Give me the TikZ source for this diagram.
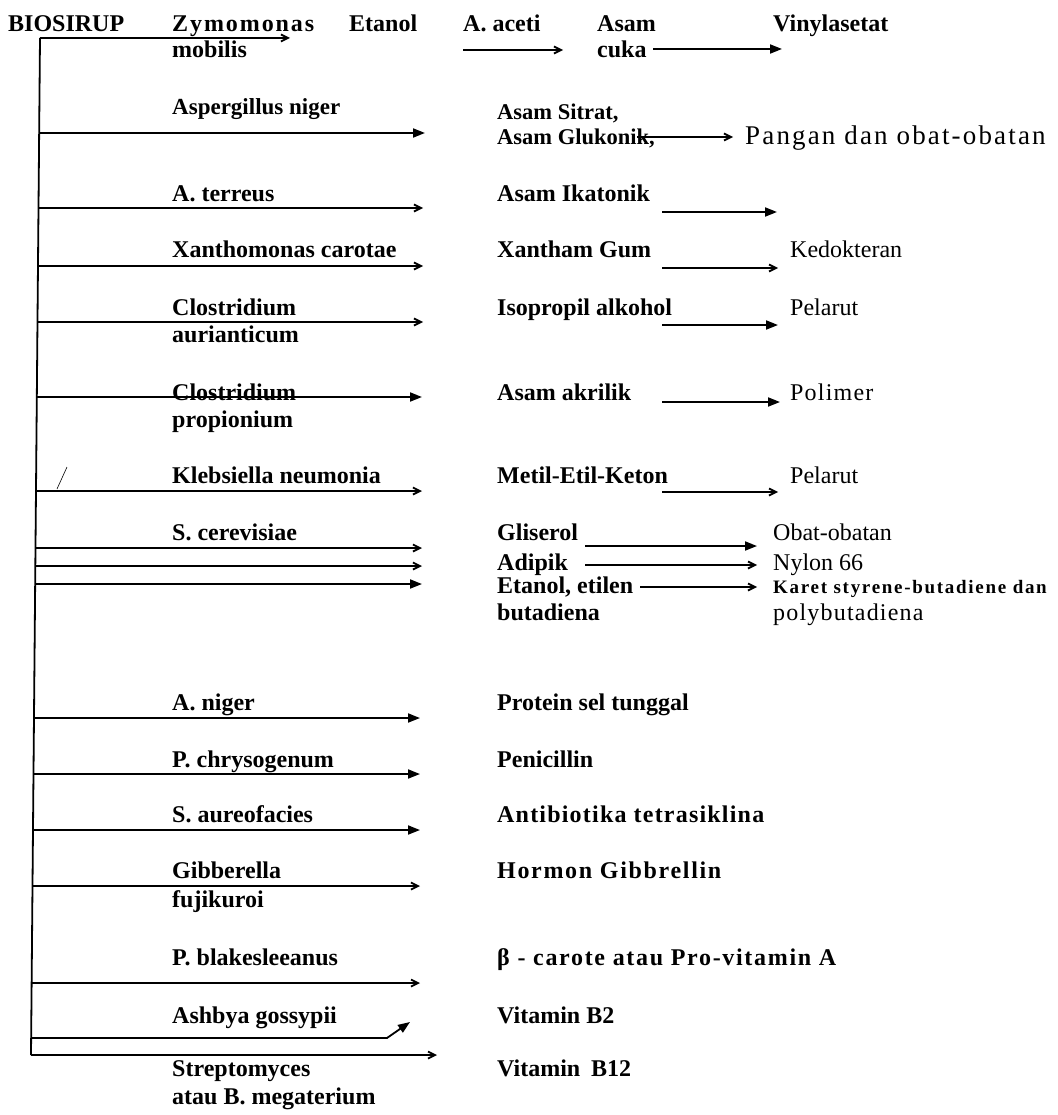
\documentclass[tikz,border=0pt]{standalone}
\usepackage{fontspec}
\setmainfont{Liberation Serif}
% letter-spaced cuts of the same family
\newfontfamily\spacedA{Liberation Serif}[LetterSpace=8]
\newfontfamily\spacedB{Liberation Serif}[LetterSpace=5]
\newfontfamily\spacedC{Liberation Serif}[LetterSpace=7]
\newfontfamily\spacedD{Liberation Serif}[LetterSpace=9]
\usetikzlibrary{arrows.meta}
\begin{document}
\begin{tikzpicture}[x=1pt,y=-1pt,
  lbl/.style={anchor=base west, inner sep=0pt, font=\bfseries\fontsize{24}{28}\selectfont},
  rlbl/.style={anchor=base west, inner sep=0pt, font=\fontsize{24}{28}\selectfont},
  link/.style={line width=1.8pt},
  barb/.style={link, -{Straight Barb[length=7pt,width=7pt]}},
  head/.style={link, -{Triangle[length=12pt,width=9pt]}}]
\useasboundingbox (0,0) rectangle (1057,1115);

% ---------- first row: ethanol / acetic acid chain ----------
\node[lbl] (bio) at (8,32) {BIOSIRUP};
\node[lbl, font=\spacedA\bfseries\fontsize{24}{28}\selectfont] (zym1) at (172,32) {Zymomonas};
\node[lbl] (zym2) at (172,58) {mobilis};
\node[lbl] (etn) at (349,32) {Etanol};
\node[lbl] (ace) at (463,32) {A. aceti};
\node[lbl] (cuk1) at (597,32) {Asam};
\node[lbl] (cuk2) at (597,58) {cuka};
\node[lbl] (vin) at (773,32) {Vinylasetat};

% ---------- spine ----------
\coordinate (sp0) at (40,38);
\coordinate (sp1) at (31,1055);
\draw[link] (sp0) -- (sp1);

% branch starts on the spine
\coordinate (b2) at (39.2,133);
\coordinate (b3) at (38.5,208);
\coordinate (b4) at (38.0,266);
\coordinate (b5) at (37.5,322);
\coordinate (b6) at (36.8,397);
\coordinate (b7) at (36.0,491);
\coordinate (b8a) at (35.5,548);
\coordinate (b8b) at (35.3,566);
\coordinate (b8c) at (35.2,584);
\coordinate (b9) at (34.0,718);
\coordinate (b10) at (33.5,774);
\coordinate (b11) at (33.0,830);
\coordinate (b12) at (32.5,886);
\coordinate (b13) at (31.6,983);
\coordinate (b14) at (31.2,1038);

% branch ends
\coordinate (e1) at (290,38);
\coordinate (e2) at (425,133);
\coordinate (e3) at (423,208);
\coordinate (e4) at (423,266);
\coordinate (e5) at (423,322);
\coordinate (e6) at (422,397);
\coordinate (e7) at (422,491);
\coordinate (e8a) at (422,548);
\coordinate (e8b) at (422,566);
\coordinate (e8c) at (422,584);
\coordinate (e9) at (420,718);
\coordinate (e10) at (420,774);
\coordinate (e11) at (420,830);
\coordinate (e12) at (420,886);
\coordinate (e13) at (420,983);
\coordinate (k14) at (387,1038);
\coordinate (e14) at (410,1022);
\coordinate (e15) at (437,1055);

\draw[barb] (sp0) -- (e1);
\draw[head] (b2) -- (e2);
\draw[barb] (b3) -- (e3);
\draw[barb] (b4) -- (e4);
\draw[barb] (b5) -- (e5);
\draw[head] (b6) -- (e6);
\draw[barb] (b7) -- (e7);
\draw[barb] (b8a) -- (e8a);
\draw[barb] (b8b) -- (e8b);
\draw[head] (b8c) -- (e8c);
\draw[head] (b9) -- (e9);
\draw[head] (b10) -- (e10);
\draw[head] (b11) -- (e11);
\draw[barb] (b12) -- (e12);
\draw[barb] (b13) -- (e13);
\draw[head] (b14) -- (k14) -- (e14);
\draw[barb] (sp1) -- (e15);

% small stroke beside the Klebsiella branch
\draw[line width=0.6pt] (67,467) -- (57,489);

% first row arrows
\coordinate (aceS) at (463,50);
\coordinate (aceE) at (563,50);
\draw[barb] (aceS) -- (aceE);
\coordinate (cukS) at (653,49);
\coordinate (cukE) at (782,49);
\draw[head] (cukS) -- (cukE);

% ---------- microorganisms ----------
\node[lbl, font=\bfseries\fontsize{23}{27}\selectfont] (asp) at (172,115) {Aspergillus niger};
\node[lbl] (ter) at (172,202) {A. terreus};
\node[lbl] (xan) at (172,258) {Xanthomonas carotae};
\node[lbl] (cla1) at (172,315) {Clostridium};
\node[lbl] (cla2) at (172,342) {aurianticum};
\node[lbl] (clp1) at (172,400) {Clostridium};
\node[lbl] (clp2) at (172,427) {propionium};
\node[lbl] (kle) at (172,483) {Klebsiella neumonia};
\node[lbl] (cer) at (172,540) {S. cerevisiae};
\node[lbl] (ang) at (172,710) {A. niger};
\node[lbl] (chr) at (172,767) {P. chrysogenum};
\node[lbl] (aur) at (172,822) {S. aureofacies};
\node[lbl] (gib1) at (172,878) {Gibberella};
\node[lbl] (gib2) at (172,907) {fujikuroi};
\node[lbl] (bla) at (172,965) {P. blakesleeanus};
\node[lbl] (ash) at (172,1023) {Ashbya gossypii};
\node[lbl] (str1) at (172,1076) {Streptomyces};
\node[lbl] (str2) at (172,1104) {atau B. megaterium};

% ---------- products ----------
\node[lbl, font=\bfseries\fontsize{22.5}{26}\selectfont] (sit1) at (497,120) {Asam Sitrat,};
\node[lbl, font=\bfseries\fontsize{22.5}{26}\selectfont] (sit2) at (497,145) {Asam Glukonik,};
\node[lbl] (ika) at (497,202) {Asam Ikatonik};
\node[lbl] (gum) at (497,258) {Xantham Gum};
\node[lbl] (iso) at (497,315) {Isopropil alkohol};
\node[lbl] (akr) at (497,400) {Asam akrilik};
\node[lbl] (mek) at (497,483) {Metil-Etil-Keton};
\node[lbl] (gli) at (497,540) {Gliserol};
\node[lbl] (adi) at (497,570) {Adipik};
\node[lbl] (etl1) at (497,593) {Etanol, etilen};
\node[lbl] (etl2) at (497,620) {butadiena};
\node[lbl] (pst) at (497,710) {Protein sel tunggal};
\node[lbl] (pen) at (497,767) {Penicillin};
\node[lbl, font=\spacedB\bfseries\fontsize{24}{28}\selectfont] (tet) at (497,822) {Antibiotika tetrasiklina};
\node[lbl, font=\spacedC\bfseries\fontsize{24}{28}\selectfont] (hor) at (497,878) {Hormon Gibbrellin};
\node[lbl, font=\spacedC\bfseries\fontsize{24}{28}\selectfont] (car) at (497,965) {β - carote atau Pro-vitamin A};
\node[lbl] (vb2) at (497,1023) {Vitamin B2};
\node[lbl] (vb12) at (497,1076) {Vitamin\hspace{0.2em} B12};

% ---------- applications ----------
\node[rlbl, font=\spacedA\fontsize{27}{30}\selectfont] (pan) at (745,145) {Pangan dan obat-obatan};
\node[rlbl] (ked) at (790,258) {Kedokteran};
\node[rlbl] (pel1) at (790,315) {Pelarut};
\node[rlbl, font=\spacedB\fontsize{24}{28}\selectfont] (pol) at (790,400) {Polimer};
\node[rlbl] (pel2) at (790,483) {Pelarut};
\node[rlbl] (obt) at (773,540) {Obat-obatan};
\node[rlbl] (nyl) at (773,570) {Nylon 66};
\node[lbl, font=\spacedD\bfseries\fontsize{19}{22}\selectfont] (kar) at (773,593) {Karet styrene-butadiene dan};
\node[rlbl, font=\spacedB\fontsize{24}{28}\selectfont] (pbd) at (773,620) {polybutadiena};

% product-to-application arrows
\coordinate (gluS) at (637,137);  \coordinate (gluE) at (733,137);
\coordinate (ikaS) at (662,212);  \coordinate (ikaE) at (777,212);
\coordinate (gumS) at (662,268);  \coordinate (gumE) at (778,268);
\coordinate (isoS) at (662,325);  \coordinate (isoE) at (778,325);
\coordinate (akrS) at (662,402);  \coordinate (akrE) at (780,402);
\coordinate (mekS) at (662,492);  \coordinate (mekE) at (778,492);
\coordinate (gliS) at (585,546);  \coordinate (gliE) at (757,546);
\coordinate (adiS) at (585,565);  \coordinate (adiE) at (757,565);
\coordinate (etlS) at (640,587);  \coordinate (etlE) at (757,587);
\draw[barb] (gluS) -- (gluE);
\draw[head] (ikaS) -- (ikaE);
\draw[barb] (gumS) -- (gumE);
\draw[head] (isoS) -- (isoE);
\draw[head] (akrS) -- (akrE);
\draw[barb] (mekS) -- (mekE);
\draw[head] (gliS) -- (gliE);
\draw[barb] (adiS) -- (adiE);
\draw[barb] (etlS) -- (etlE);
\end{tikzpicture}
\end{document}
